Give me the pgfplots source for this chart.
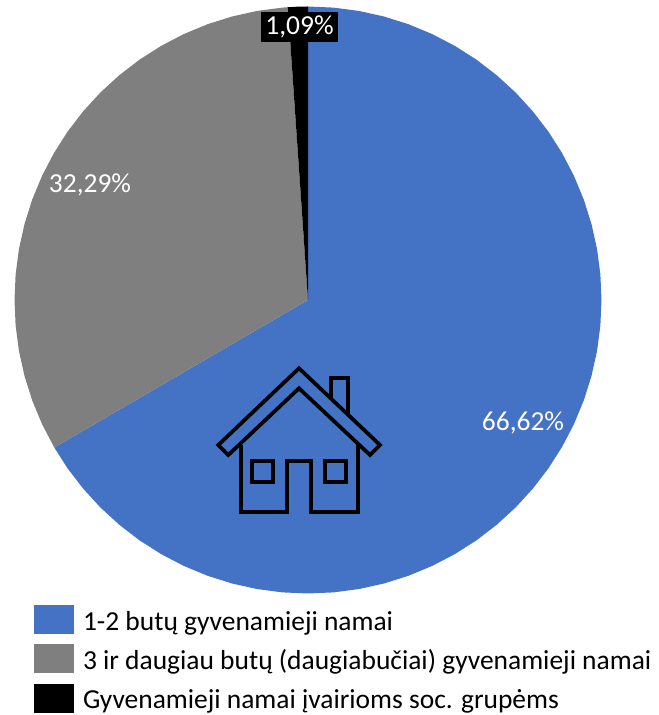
\documentclass[border=0pt]{standalone}
\usepackage{fontspec}
\setmainfont{Carlito}
\usepackage{pgfplots}
\pgfplotsset{compat=1.18}
\definecolor{pieblue}{HTML}{4472C4}
\definecolor{piegray}{HTML}{7F7F7F}
% slices: 66.62, 32.29, 1.09 percent, clockwise from the top; 1 unit = 1 px of the reference
\begin{document}
\begin{tikzpicture}
\begin{axis}[
    scale only axis,
    width=494.25pt,
    height=536.25pt,
    xmin=-308, xmax=351,
    ymin=-415, ymax=300,
    hide axis,
    clip=false,
    legend style={
        at={(axis cs:-274,-305)},
        anchor=north west,
        draw=none,
        fill=none,
        inner sep=0pt,
        outer sep=0pt,
        font=\fontsize{20.6pt}{23pt}\selectfont,
        row sep=7.75pt,
        nodes={inner sep=0pt, outer sep=0pt, anchor=base west},
    },
    legend cell align=left,
    legend image code/.code={\fill[#1] (0pt,-3pt) rectangle (30pt,18.75pt);\path (36.75pt,0pt);},
]
\addplot[draw=none, fill=pieblue, data cs=polar] coordinates {
    (0,0) (90,293.5) (85,293.5) (80,293.5) (75,293.5) (70,293.5) (65,293.5) (60,293.5)
    (55,293.5) (50,293.5) (45,293.5) (40,293.5) (35,293.5) (30,293.5) (25,293.5) (20,293.5)
    (15,293.5) (10,293.5) (5,293.5) (0,293.5) (-5,293.5) (-10,293.5) (-15,293.5) (-20,293.5)
    (-25,293.5) (-30,293.5) (-35,293.5) (-40,293.5) (-45,293.5) (-50,293.5) (-55,293.5)
    (-60,293.5) (-65,293.5) (-70,293.5) (-75,293.5) (-80,293.5) (-85,293.5) (-90,293.5)
    (-95,293.5) (-100,293.5) (-105,293.5) (-110,293.5) (-115,293.5) (-120,293.5)
    (-125,293.5) (-130,293.5) (-135,293.5) (-140,293.5) (-145,293.5) (-149.83,293.5)
} -- cycle;
\addlegendentry{1-2 butų gyvenamieji namai}
\addplot[draw=none, fill=piegray, data cs=polar] coordinates {
    (0,0) (210.17,293.5) (205,293.5) (200,293.5) (195,293.5) (190,293.5) (185,293.5)
    (180,293.5) (175,293.5) (170,293.5) (165,293.5) (160,293.5) (155,293.5) (150,293.5)
    (145,293.5) (140,293.5) (135,293.5) (130,293.5) (125,293.5) (120,293.5) (115,293.5)
    (110,293.5) (105,293.5) (100,293.5) (95,293.5) (93.93,293.5)
} -- cycle;
\addlegendentry{3 ir daugiau butų (daugiabučiai) gyvenamieji namai}
\addplot[draw=none, fill=black, data cs=polar] coordinates {
    (0,0) (93.93,293.5) (92,293.5) (90,293.5)
} -- cycle;
\addlegendentry{Gyvenamieji namai įvairioms soc. grupėms}
% house icon
\addplot[forget plot, black, line width=2.8pt, line join=miter] coordinates {
    (-9,-68.3) (72,-145) (62,-155) (-9,-88.3) (-79.7,-155) (-89.7,-145)} -- cycle;
\addplot[forget plot, black, line width=2.8pt, line join=miter] coordinates {
    (23,-98.6) (23,-78.3) (39.7,-78.3) (39.7,-114.4)};
\addplot[forget plot, black, line width=2.8pt, line join=miter] coordinates {
    (-67.3,-145) (-67.3,-211.7) (-20.7,-211.7) (-20.7,-161) (3,-161) (3,-211.7)
    (49.7,-211.7) (49.7,-145)};
\addplot[forget plot, black, line width=2.8pt, line join=miter] coordinates {
    (-55.7,-161) (-34.7,-161) (-34.7,-181.7) (-55.7,-181.7)} -- cycle;
\addplot[forget plot, black, line width=2.8pt, line join=miter] coordinates {
    (17,-161) (38,-161) (38,-181.7) (17,-181.7)} -- cycle;
% value labels
\node[text=white, font=\fontsize{20.6pt}{23pt}\selectfont, inner sep=0pt] at (axis cs:215,-123) {66,62\%};
\node[text=white, font=\fontsize{20.6pt}{23pt}\selectfont, inner sep=0pt] at (axis cs:-218,115) {32,29\%};
\node[text=white, fill=black, font=\fontsize{20.6pt}{23pt}\selectfont, inner sep=0pt,
      minimum width=57.5pt, minimum height=22pt] at (axis cs:-8.5,273) {1,09\%};
\path (axis cs:-308,-415) rectangle (axis cs:351,300);
\end{axis}
\end{tikzpicture}
\end{document}
